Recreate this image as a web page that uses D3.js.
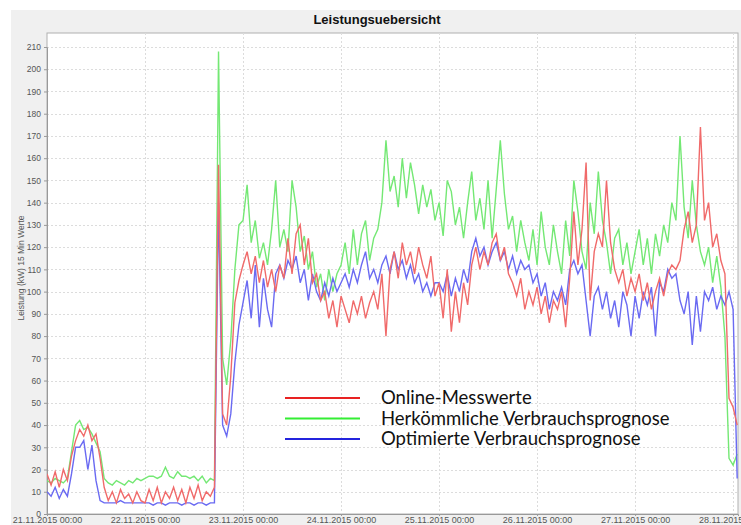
<!DOCTYPE html>
<html><head><meta charset="utf-8">
<script src="https://cdn.jsdelivr.net/npm/d3@7"></script>
<style>body{margin:0;background:#fff;overflow:hidden} svg{display:block}</style>
</head><body>
<svg id="c" width="741" height="525"></svg>
<script>
// ---- DATA (hourly values, kW, starting 21.11.2015 00:00) ----
const title = "Leistungsuebersicht";
const yLabel = "Leistung (kW) 15 Min Werte";
const seriesNames = ["Online-Messwerte", "Herkömmliche Verbrauchsprognose", "Optimierte Verbrauchsprognose"];
const yTicks = [0,10,20,30,40,50,60,70,80,90,100,110,120,130,140,150,160,170,180,190,200,210];
const xTickLabels = ["21.11.2015 00:00","22.11.2015 00:00","23.11.2015 00:00","24.11.2015 00:00","25.11.2015 00:00","26.11.2015 00:00","27.11.2015 00:00","28.11.2015 00:00"];

const online = [
 18,13,19,12,20,15,
 26,33,38,35,40,33,36,25,12,
 6,10,5,11,7,9,5,10,6,
 5,11,6,12,5,10,7,12,6,11,5,12,7,13,6,10,8,12,
 157,45,40,62,95,105,
 112,118,108,116,104,114,102,110,100,112,106,124,108,126,130,112,124,104,108,96,100,88,96,84,98,
 92,86,96,90,98,88,95,100,92,108,80,110,118,106,122,112,118,108,120,112,106,116,98,
 104,88,110,82,100,86,104,94,112,120,110,118,112,122,126,114,120,108,104,98,106,92,100,94,102,90,98,86,96,92,100,84,106,136,112,128,158,96,118,126,120,150,122,110,104,110,98,106,
 100,108,96,104,92,100,106,98,108,112,110,114,128,136,122,130,174,132,140,120,126,114,108,52,48,40
];
const herkoemmlich = [
 15,14,16,15,14,16,
 28,40,42,38,39,36,32,28,16,
 14,13,15,14,13,15,14,16,15,
 16,17,17,16,17,21,17,16,19,17,17,16,17,15,17,14,16,15,
 208,70,58,78,110,130,
 132,148,122,132,115,122,112,128,150,120,128,118,150,138,118,125,110,118,102,108,96,110,100,108,112,
 122,108,128,112,126,132,114,124,128,140,168,145,152,138,160,142,158,148,135,148,138,146,132,
 140,125,150,145,130,138,124,140,154,132,142,128,150,124,146,168,144,128,134,118,132,122,114,128,112,136,120,112,130,118,108,132,116,150,136,118,110,140,126,154,132,122,108,124,128,112,122,108,
 118,128,112,124,108,126,116,130,122,140,132,170,138,124,150,130,118,112,120,104,116,102,80,25,22,27
];
const optimiert = [
 10,8,12,7,11,8,
 18,30,30,33,20,31,15,6,5,
 5,5,5,6,5,5,5,5,5,
 5,5,4,5,5,4,5,5,5,4,5,5,4,5,5,4,5,5,
 140,40,35,45,68,85,
 95,105,88,112,84,106,92,84,108,112,106,114,110,116,104,110,96,108,100,96,104,98,106,100,104,
 108,102,110,104,112,118,106,110,104,112,116,108,118,110,114,106,112,104,108,100,104,98,104,
 104,100,108,98,106,100,110,104,118,124,116,120,112,118,122,114,118,110,116,108,114,110,112,104,108,98,104,92,100,96,102,94,110,114,108,112,96,80,98,102,92,100,88,96,84,100,94,80,
 98,88,100,94,102,80,104,100,110,106,108,96,90,100,76,98,82,100,96,102,92,98,94,100,92,16
];

// ---- CHART ----
const svg = d3.select("#c");
const start = new Date(2015,10,21,0,0);
const hourMs = 3600000;
const endDate = new Date(start.getTime() + 169.2*hourMs);
const plot = {left:47, right:738, top:33, bottom:514};

const x = d3.scaleTime().domain([start, endDate]).range([plot.left, plot.right]);
const y = d3.scaleLinear().domain([0,210]).range([plot.bottom, 47]);
const font = "Liberation Sans, Arial, sans-serif";

// panel background
svg.append("rect").attr("x",11).attr("y",10).attr("width",730).attr("height",515).attr("fill","#f0f0f0");
svg.append("text").attr("x",377).attr("y",23.5).attr("text-anchor","middle")
  .attr("font-family",font).attr("font-weight","bold").attr("font-size",13)
  .attr("fill","#111").text(title);

svg.append("rect").attr("x",plot.left).attr("y",plot.top).attr("width",plot.right-plot.left).attr("height",plot.bottom-plot.top)
  .attr("fill","#fff").attr("stroke","#b0b0b0").attr("stroke-width",1);

// grid
const dayDates = xTickLabels.map((d,i)=> new Date(2015,10,21+i,0,0));
svg.append("g").selectAll("line").data(yTicks.filter(v=>v>0)).join("line")
  .attr("x1",plot.left).attr("x2",plot.right).attr("y1",d=>Math.round(y(d))+0.5).attr("y2",d=>Math.round(y(d))+0.5)
  .attr("stroke","#dcdcdc").attr("stroke-dasharray","2,2");
svg.append("g").selectAll("line").data(dayDates.slice(1)).join("line")
  .attr("x1",d=>Math.round(x(d))+0.5).attr("x2",d=>Math.round(x(d))+0.5).attr("y1",plot.top).attr("y2",plot.bottom)
  .attr("stroke","#dcdcdc").attr("stroke-dasharray","2,2");

// axes
const yAxis = d3.axisLeft(y).tickValues(yTicks).tickSize(3).tickPadding(3);
const gy = svg.append("g").attr("transform",`translate(${plot.left},0)`).call(yAxis);
gy.select(".domain").attr("stroke","#999");
gy.selectAll(".tick line").attr("stroke","#999");
gy.selectAll("text").attr("font-family",font).attr("font-size",8.5).attr("fill","#555");

const xAxis = d3.axisBottom(x).tickValues(dayDates).tickSize(2).tickPadding(2).tickFormat((d,i)=>xTickLabels[i]);
const gx = svg.append("g").attr("transform",`translate(0,${plot.bottom})`).call(xAxis);
gx.select(".domain").attr("stroke","#999");
gx.selectAll(".tick line").attr("stroke","#999");
gx.selectAll("text").attr("font-family",font).attr("font-size",9).attr("fill","#555").attr("dy","0.6em");

svg.append("text").attr("transform","translate(24,268) rotate(-90)").attr("text-anchor","middle")
  .attr("font-family",font).attr("font-size",8.5).attr("fill","#555").text(yLabel);

// lines
const line = d3.line().x((d,i)=>x(new Date(start.getTime()+i*hourMs))).y(d=>y(d));
svg.append("clipPath").attr("id","pc").append("rect")
  .attr("x",plot.left).attr("y",plot.top).attr("width",plot.right-plot.left).attr("height",plot.bottom-plot.top);
const gl = svg.append("g").attr("clip-path","url(#pc)");
gl.append("path").datum(herkoemmlich).attr("d",line).attr("fill","none").attr("stroke","#74e874").attr("stroke-width",1.4);
gl.append("path").datum(optimiert).attr("d",line).attr("fill","none").attr("stroke","#6a6af2").attr("stroke-width",1.4);
gl.append("path").datum(online).attr("d",line).attr("fill","none").attr("stroke","#f06a6a").attr("stroke-width",1.4);

// legend
const legColors = ["#e82222","#33ee33","#2424dd"];
const lg = svg.append("g");
seriesNames.forEach((n,i)=>{
  const yy = 398 + i*20.5;
  lg.append("line").attr("x1",285).attr("x2",360).attr("y1",yy).attr("y2",yy).attr("stroke",legColors[i]).attr("stroke-width",2);
  lg.append("text").attr("x",381).attr("y",yy+6).attr("font-family","Lato, 'Open Sans', sans-serif").attr("font-size",18.5)
    .attr("fill","#111").text(n);
});
</script>
</body></html>
